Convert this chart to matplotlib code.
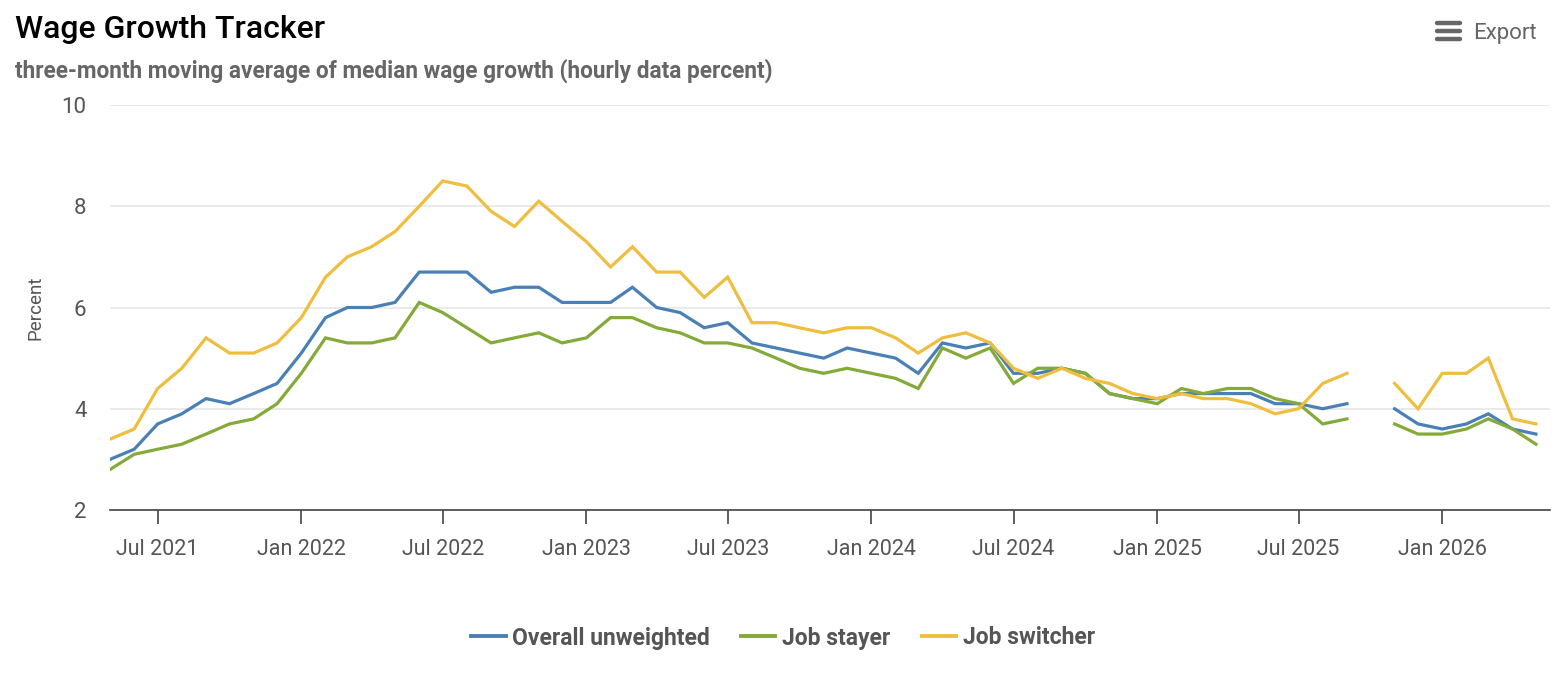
import matplotlib
matplotlib.use("Agg")
import matplotlib.pyplot as plt
import matplotlib.dates as mdates
from matplotlib.lines import Line2D
import numpy as np
import pandas as pd

plt.rcParams['font.family'] = ['Roboto', 'DejaVu Sans']

# ---- data ----
months = pd.date_range('2021-05-01', '2026-05-01', freq='MS')
nan = np.nan
overall_unweighted = [
    3.0, 3.2, 3.7, 3.9, 4.2, 4.1, 4.3, 4.5,
    5.1, 5.8, 6.0, 6.0, 6.1, 6.7, 6.7, 6.7, 6.3, 6.4, 6.4, 6.1,
    6.1, 6.1, 6.4, 6.0, 5.9, 5.6, 5.7, 5.3, 5.2, 5.1, 5.0, 5.2,
    5.1, 5.0, 4.7, 5.3, 5.2, 5.3, 4.7, 4.7, 4.8, 4.7, 4.3, 4.2,
    4.2, 4.3, 4.3, 4.3, 4.3, 4.1, 4.1, 4.0, 4.1, nan, 4.0, 3.7,
    3.6, 3.7, 3.9, 3.6, 3.5,
]
job_stayer = [
    2.8, 3.1, 3.2, 3.3, 3.5, 3.7, 3.8, 4.1,
    4.7, 5.4, 5.3, 5.3, 5.4, 6.1, 5.9, 5.6, 5.3, 5.4, 5.5, 5.3,
    5.4, 5.8, 5.8, 5.6, 5.5, 5.3, 5.3, 5.2, 5.0, 4.8, 4.7, 4.8,
    4.7, 4.6, 4.4, 5.2, 5.0, 5.2, 4.5, 4.8, 4.8, 4.7, 4.3, 4.2,
    4.1, 4.4, 4.3, 4.4, 4.4, 4.2, 4.1, 3.7, 3.8, nan, 3.7, 3.5,
    3.5, 3.6, 3.8, 3.6, 3.3,
]
job_switcher = [
    3.4, 3.6, 4.4, 4.8, 5.4, 5.1, 5.1, 5.3,
    5.8, 6.6, 7.0, 7.2, 7.5, 8.0, 8.5, 8.4, 7.9, 7.6, 8.1, 7.7,
    7.3, 6.8, 7.2, 6.7, 6.7, 6.2, 6.6, 5.7, 5.7, 5.6, 5.5, 5.6,
    5.6, 5.4, 5.1, 5.4, 5.5, 5.3, 4.8, 4.6, 4.8, 4.6, 4.5, 4.3,
    4.2, 4.3, 4.2, 4.2, 4.1, 3.9, 4.0, 4.5, 4.7, nan, 4.5, 4.0,
    4.7, 4.7, 5.0, 3.8, 3.7,
]
series_names = ['Overall unweighted', 'Job stayer', 'Job switcher']
series_colors = ['#4a80b5', '#84aa3a', '#f0be3e']
y_ticks = [2, 4, 6, 8, 10]

W, H = 1556, 680
fig = plt.figure(figsize=(W / 100, H / 100), dpi=100)
ax = fig.add_axes([110 / W, 1 - 510 / H, (1550 - 110) / W, (510 - 105) / H])

for vals, name, col in zip([overall_unweighted, job_stayer, job_switcher], series_names, series_colors):
    ax.plot(months, vals, color=col, lw=2.3, label=name, solid_joinstyle='miter', zorder=3)

ax.set_ylim(2, 10)
ax.set_xlim(pd.Timestamp('2021-05-01'), pd.Timestamp('2026-05-19'))
ax.set_yticks(y_ticks)
ax.set_yticklabels([str(v) for v in y_ticks])
ax.yaxis.grid(True, color='#e6e6e6', lw=1.2)
ax.set_axisbelow(True)

ax.xaxis.set_major_locator(mdates.MonthLocator(bymonth=[1, 7]))
ax.xaxis.set_major_formatter(mdates.DateFormatter('%b %Y'))

for s in ['top', 'right', 'left']:
    ax.spines[s].set_visible(False)
ax.spines['bottom'].set_color('#444444')
ax.spines['bottom'].set_linewidth(1.2)
ax.tick_params(axis='x', direction='out', length=10, width=1.2, color='#444444',
               labelsize=15.5, labelcolor='#555555', pad=11)
ax.tick_params(axis='y', length=0, labelsize=16, labelcolor='#555555', pad=17)
ax.set_ylabel('Percent', fontsize=13.5, color='#555555', labelpad=12)

fig.text(15 / W, 1 - 30 / H, 'Wage Growth Tracker', fontsize=23, color='#000000',
         ha='left', va='center', fontweight='medium')
fig.text(15 / W, 1 - 71 / H, 'three-month moving average of median wage growth (hourly data percent)',
         fontsize=16.3, color='#666666', ha='left', va='center', fontweight='bold')

# Export button
for yy in [23, 31, 39]:
    fig.add_artist(Line2D([1437 / W, 1460 / W], [1 - yy / H, 1 - yy / H], color='#666666',
                          lw=3.2, solid_capstyle='round'))
fig.text(1473 / W, 1 - 34 / H, 'Export', fontsize=16, color='#666666', ha='left', va='center')

handles = [Line2D([0], [0], color=c, lw=2.8) for c in series_colors]
leg = fig.legend(handles, series_names, loc='center', bbox_to_anchor=(783 / W, 1 - 638 / H),
                 ncol=3, frameon=False, handlelength=1.5, handletextpad=0.3, columnspacing=1.35,
                 prop={'size': 16.5, 'weight': 'bold'})
for t in leg.get_texts():
    t.set_color('#555555')

fig.savefig('out.png', dpi=100)
